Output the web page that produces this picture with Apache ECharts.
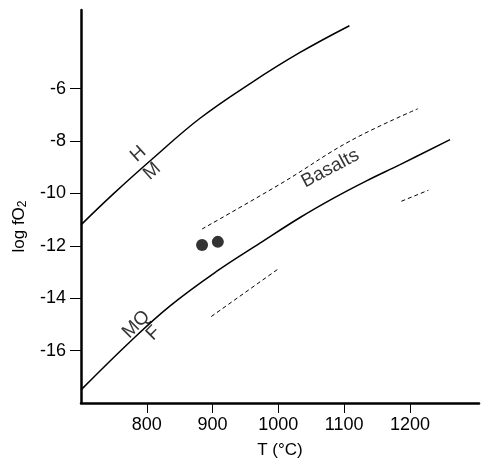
<!DOCTYPE html>
<html>
<head>
<meta charset="utf-8">
<script src="https://cdn.jsdelivr.net/npm/echarts@6/dist/echarts.min.js"></script>
<style>
  html, body { margin: 0; padding: 0; background: #fff; }
  #main { width: 488px; height: 464px; }
</style>
</head>
<body>
<div id="main"></div>
<script>
// buffer curves (T in °C, log fO2)
const hmT = [700, 750, 810, 880, 960, 1033, 1108];
const hmLogFO2 = [-11.2, -10.0, -8.65, -7.15, -5.76, -4.62, -3.6];

const fmqT = [700, 775, 835, 906, 972, 1033, 1084, 1134, 1185, 1261];
const fmqLogFO2 = [-17.5, -15.65, -14.3, -12.98, -11.9, -10.92, -10.18, -9.52, -8.9, -7.95];

// dashed basalt bounds
const basaltUpperT = [884, 1007, 1109, 1212];
const basaltUpperLogFO2 = [-11.36, -9.58, -8.0, -6.77];
const basaltLowT = [898, 1000];
const basaltLowLogFO2 = [-14.7, -12.88];
const basaltRightT = [1187, 1228];
const basaltRightLogFO2 = [-10.3, -9.88];

// sample points
const sampleT = [884, 908];
const sampleLogFO2 = [-11.97, -11.85];

// curve labels
const labelText = ["H", "M", "MQ", "F", "Basalts"];
const labelT = [787, 808, 784, 810, 1079];
const labelLogFO2 = [-8.5, -9.16, -15.0, -15.34, -9.05];
const labelAngle = [42, 42, 45, 45, 28];

const xTicks = [800, 900, 1000, 1100, 1200];
const yTicks = [-16, -14, -12, -10, -8, -6];

const FONT = "'Liberation Sans', Arial, sans-serif";
const zip = (a, b) => a.map((v, i) => [v, b[i]]);

const chart = echarts.init(document.getElementById("main"), null, { renderer: "canvas" });

const dashed = { color: "#000", width: 1, type: [4, 3] };

const option = {
  animation: false,
  backgroundColor: "#fff",
  grid: { left: 81, right: 9, top: 10, bottom: 59 },
  xAxis: {
    type: "value",
    min: 700,
    max: 1305,
    name: "T (°C)",
    nameLocation: "middle",
    nameGap: 39,
    nameTextStyle: { color: "#000", fontSize: 17, fontFamily: FONT },
    splitLine: { show: false },
    axisLine: { onZero: false, lineStyle: { color: "#000", width: 2.5 } },
    axisTick: { customValues: xTicks, length: 10, lineStyle: { color: "#000", width: 1 } },
    axisLabel: {
      customValues: xTicks,
      margin: 13,
      color: "#000",
      fontSize: 18,
      fontFamily: FONT,
      formatter: (v) => String(v),
    },
  },
  yAxis: {
    type: "value",
    min: -18,
    max: -3,
    name: "log fO{sub|2}",
    nameLocation: "middle",
    nameGap: 52,
    nameRotate: 90,
    nameTextStyle: {
      color: "#000",
      fontSize: 17,
      fontFamily: FONT,
      padding: [0, 40, 0, 0],
      rich: { sub: { fontSize: 12, fontFamily: FONT, verticalAlign: "bottom", padding: [8, 0, 0, 0] } },
    },
    splitLine: { show: false },
    axisLine: { onZero: false, lineStyle: { color: "#000", width: 2.5 } },
    axisTick: { customValues: yTicks, length: 11, lineStyle: { color: "#000", width: 1 } },
    axisLabel: {
      customValues: yTicks,
      margin: 15,
      color: "#000",
      fontSize: 18,
      fontFamily: FONT,
      formatter: (v) => (v < 0 ? "-" + Math.abs(v) : String(v)),
    },
  },
  series: [
    {
      name: "HM",
      type: "line",
      smooth: 0.4,
      symbol: "none",
      data: zip(hmT, hmLogFO2),
      lineStyle: { color: "#000", width: 1.5 },
    },
    {
      name: "FMQ",
      type: "line",
      smooth: 0.4,
      symbol: "none",
      data: zip(fmqT, fmqLogFO2),
      lineStyle: { color: "#000", width: 1.5 },
    },
    {
      name: "Basalts upper",
      type: "line",
      smooth: 0.4,
      symbol: "none",
      data: zip(basaltUpperT, basaltUpperLogFO2),
      lineStyle: dashed,
    },
    {
      name: "Basalts lower",
      type: "line",
      symbol: "none",
      data: zip(basaltLowT, basaltLowLogFO2),
      lineStyle: dashed,
    },
    {
      name: "Basalts right",
      type: "line",
      symbol: "none",
      data: zip(basaltRightT, basaltRightLogFO2),
      lineStyle: dashed,
    },
    {
      name: "Samples",
      type: "scatter",
      symbol: "circle",
      symbolSize: 12,
      itemStyle: { color: "#000" },
      data: zip(sampleT, sampleLogFO2),
    },
    {
      name: "Labels",
      type: "scatter",
      symbolSize: 0,
      silent: true,
      data: labelText.map((t, i) => ({
        name: t,
        value: [labelT[i], labelLogFO2[i]],
        label: { rotate: labelAngle[i] },
      })),
      label: {
        show: true,
        position: "inside",
        formatter: "{b}",
        color: "#000",
        fontSize: 19,
        fontFamily: FONT,
      },
    },
  ],
};

chart.setOption(option, true);
</script>
</body>
</html>
